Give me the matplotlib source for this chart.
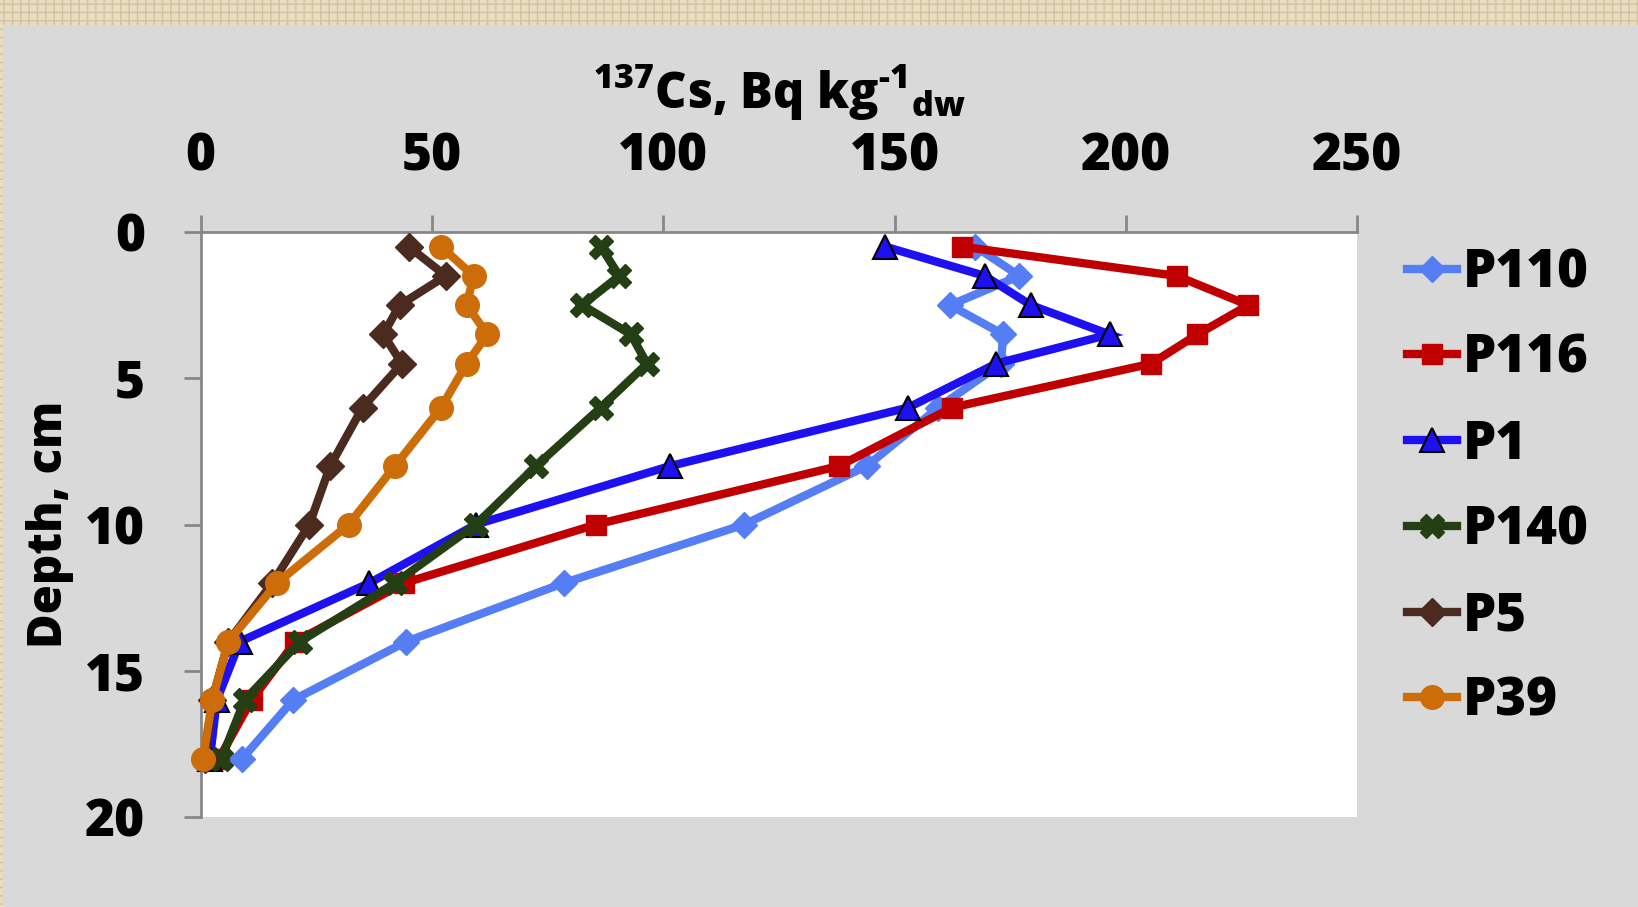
import matplotlib
matplotlib.use("Agg")
import matplotlib.pyplot as plt
from matplotlib.patches import Rectangle

plt.rcParams["font.family"] = ["Open Sans", "DejaVu Sans"]
plt.rcParams["font.weight"] = "heavy"
plt.rcParams["mathtext.fontset"] = "custom"
plt.rcParams["mathtext.rm"] = "Open Sans:heavy"
plt.rcParams["mathtext.bf"] = "Open Sans:heavy"
plt.rcParams["mathtext.default"] = "bf"

# sampling depths (cm) shared by all cores
depth = [0.5, 1.5, 2.5, 3.5, 4.5, 6, 8, 10, 12, 14, 16, 18]

# 137Cs activity per core, Bq/kg dry weight
p110 = [167.5, 177, 162, 173.5, 173, 159.5, 144, 117.5, 78.5, 44.5, 20, 9]
p116 = [164.5, 211, 226.5, 215.5, 205.5, 162.5, 138, 85.5, 44, 20.5, 11, 4]
p1 = [148, 169.5, 179.5, 196.5, 172, 153, 101.5, 59.5, 36.5, 8.5, 3.5, 2]
p140 = [86.5, 90.5, 82.5, 93, 96.5, 86.5, 72.5, 59.5, 42, 21.5, 9.5, 4.5]
p5 = [45, 53, 43, 39.5, 43.5, 35, 28, 23.5, 15.5, 6, 2.5, 1]
p39 = [52, 59, 57.5, 62, 57.5, 52, 42, 32, 16.5, 6, 2.5, 0.5]

series = [
    ("P110", p110, "#557EF4", "D", 13, None),
    ("P116", p116, "#C00000", "s", 15, None),
    ("P1", p1, "#1F10F2", "^", 17, "black"),
    ("P140", p140, "#233F13", "X", 17, None),
    ("P5", p5, "#4B2A20", "D", 14, None),
    ("P39", p39, "#CC6D0A", "o", 17, None),
]

fig = plt.figure(figsize=(16.38, 9.07), dpi=100)
fig.patch.set_facecolor("#E8DDC2")
# woven border strip along the top and left edge, grey panel inside
fig.patches.append(Rectangle((0, 0), 1, 1, transform=fig.transFigure,
                             facecolor="none", edgecolor="#D3C29E",
                             hatch="++", linewidth=0, zorder=-3))
fig.patches.append(Rectangle((3 / 1638, 0), 1, 1 - 25 / 907,
                             transform=fig.transFigure, facecolor="#D9D9D9",
                             edgecolor="none", zorder=-2))

ax = fig.add_axes([0.1225, 0.0992, 0.7060, 0.6450])
ax.set_facecolor("white")

for z, (name, vals, col, mk, ms, ec) in enumerate(series):
    ax.plot(vals, depth, color=col, lw=6, marker=mk, ms=ms,
            markerfacecolor=col, markeredgecolor=ec if ec else col,
            markeredgewidth=1.5 if ec else 1, label=name,
            solid_joinstyle="miter", zorder=3 + z, clip_on=False)

ax.set_xlim(0, 250)
ax.set_ylim(20, 0)
ax.set_xticks([0, 50, 100, 150, 200, 250])
ax.set_yticks([0, 5, 10, 15, 20])
ax.xaxis.tick_top()
ax.xaxis.set_label_position("top")
for s in ["right", "bottom"]:
    ax.spines[s].set_visible(False)
for s in ["top", "left"]:
    ax.spines[s].set_color("#888888")
    ax.spines[s].set_linewidth(2)
ax.tick_params(axis="both", direction="out", length=12, width=2,
               color="#888888", labelsize=37)
ax.tick_params(axis="x", pad=24)
ax.tick_params(axis="y", pad=28)
for lab in ax.get_xticklabels() + ax.get_yticklabels():
    lab.set_fontweight("heavy")

ax.set_xlabel(r"$^{137}$Cs, Bq kg$^{\text{-}1}$$_{dw}$", fontsize=35,
              fontweight="heavy", labelpad=16)
ax.set_ylabel("Depth, cm", fontsize=34, fontweight="heavy", labelpad=8)

fig.legend(loc="center left", bbox_to_anchor=(0.843, 0.462), frameon=False,
           handlelength=0.95, handletextpad=0.1, labelspacing=0.62,
           borderpad=0, prop={"weight": "heavy", "size": 38})

fig.savefig("out.png", dpi=100, facecolor=fig.get_facecolor())
